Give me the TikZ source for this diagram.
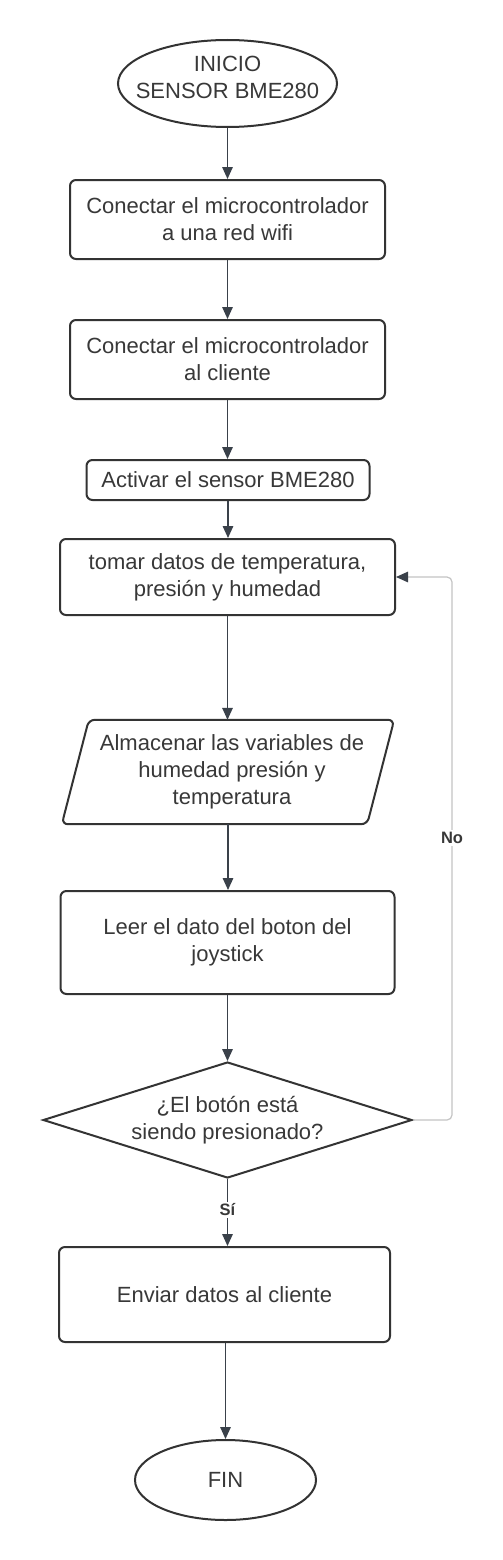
\documentclass[tikz,border=0pt]{standalone}
\usepackage{fontspec}
\setmainfont{Liberation Sans}
\usetikzlibrary{shapes.geometric,arrows.meta,calc}
\definecolor{edge}{HTML}{333333}
\definecolor{txt}{HTML}{383838}
\definecolor{arrowc}{HTML}{3A414A}
\definecolor{loopc}{HTML}{C4C4C4}
\begin{document}
\begin{tikzpicture}[x=1pt,y=-1pt,
  every node/.style={text=txt, font=\fontsize{22}{27}\selectfont, align=center, inner sep=0pt},
  procbox/.style={draw=edge, line width=2pt, rounded corners=6pt, rectangle},
  term/.style={draw=edge, line width=2pt, ellipse},
  decision/.style={draw=edge, line width=2pt, diamond, aspect=3.18},
  arr/.style={draw=arrowc, line width=1.5pt, -{Triangle[length=12pt,width=10.5pt]}},
  loopline/.style={draw=loopc, line width=1.2pt, rounded corners=5pt, -{Triangle[length=12pt,width=10.5pt,color=arrowc]}},
  lbl/.style={fill=white, font=\bfseries\fontsize{16.5}{18}\selectfont, text=txt, inner sep=2pt}
]
\useasboundingbox (0,0) rectangle (503,1560);
\fill[white] (0,0) rectangle (503,1560);

% start terminal
\node[term, minimum width=219pt, minimum height=87pt] (inicio) at (227.5,83.5) {};
\node (iniciotxt) at (227.5,77) {INICIO\\SENSOR BME280};

\node[procbox, minimum width=315pt, minimum height=79pt] (b1) at (227.5,219.5) {Conectar el microcontrolador\\a una red wifi};
\node[procbox, minimum width=315pt, minimum height=79pt] (b2) at (227.5,359.5) {Conectar el microcontrolador\\al cliente};
\node[procbox, minimum width=283pt, minimum height=40pt] (b3) at (228,480) {Activar el sensor BME280};
\node[procbox, minimum width=335pt, minimum height=76pt] (b4) at (227.5,577) {tomar datos de temperatura,\\presión y humedad};

% data (parallelogram)
\node[minimum width=278pt, minimum height=104pt] (store) at (228,772) {};
\node (storetxt) at (232,772) {Almacenar las variables de\\humedad presión y\\temperatura};
\draw[draw=edge, line width=2pt, rounded corners=6pt]
  (store.north west) -- ($(store.north east)+(27,0)$) -- (store.south east) -- ($(store.south west)+(-27,0)$) -- cycle;

\node[procbox, minimum width=334pt, minimum height=103pt] (b5) at (227.5,942.5) {Leer el dato del boton del\\joystick};
\node[decision, minimum width=369pt, minimum height=116pt] (dia) at (227.5,1120) {¿El botón está\\siendo presionado?};
\node[procbox, minimum width=331pt, minimum height=95pt] (b6) at (224.5,1294.5) {Enviar datos al cliente};
\node[term, minimum width=181pt, minimum height=80pt] (fin) at (225.5,1480) {FIN};

% connectors
\draw[arr] (inicio.south) -- (inicio.south |- b1.north);
\draw[arr] (b1.south) -- (b1.south |- b2.north);
\draw[arr] (b2.south) -- (b2.south |- b3.north);
\draw[arr] (b3.south) -- (b3.south |- b4.north);
\draw[arr] (b4.south) -- (b4.south |- store.north);
\draw[arr] (store.south) -- (store.south |- b5.north);
\draw[arr] (b5.south) -- (b5.south |- dia.north);
\draw[arr] (dia.south) -- (dia.south |- b6.north);
\draw[arr] (fin.north |- b6.south) -- (fin.north);

\coordinate (ur) at (452,577);
\draw[loopline] (dia.east) -| (ur) -- (b4.east);

\node[lbl] (no) at (452,838) {No};
\node[lbl] (si) at (227.5,1210) {Sí};
\end{tikzpicture}
\end{document}
